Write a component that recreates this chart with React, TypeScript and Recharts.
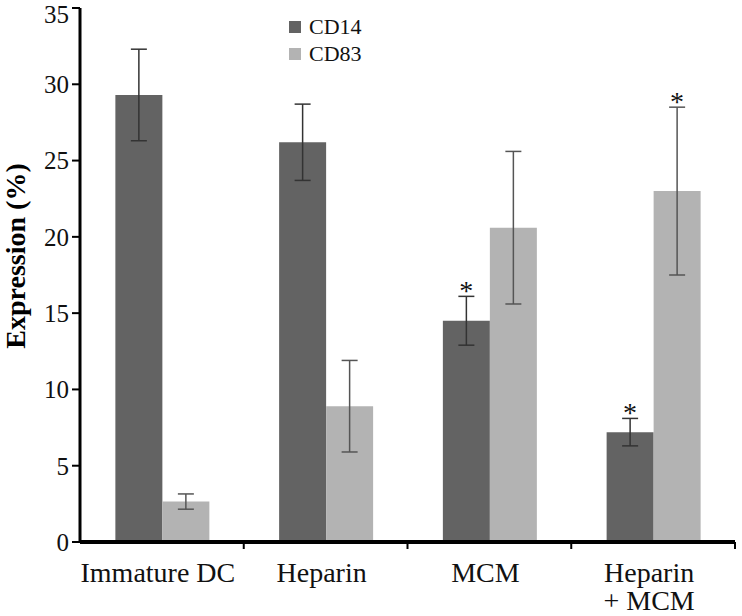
import React from "react";
import {
  BarChart,
  Bar,
  XAxis,
  YAxis,
  ErrorBar,
  LabelList,
  Legend,
} from "recharts";

const categories = ["Immature DC", "Heparin", "MCM", "Heparin\n+ MCM"];
const seriesNames = ["CD14", "CD83"];
const cd14 = [29.3, 26.2, 14.5, 7.2];
const cd14Err = [3.0, 2.5, 1.6, 0.9];
const cd83 = [2.65, 8.9, 20.6, 23.0];
const cd83Err = [0.5, 3.0, 5.0, 5.5];
const cd14Sig = [false, false, true, true];
const cd83Sig = [false, false, false, true];
const yTicks = [0, 5, 10, 15, 20, 25, 30, 35];

const DARK = "#636363";
const LIGHT = "#b3b3b3";
const FONT = "Liberation Serif, serif";

const data = categories.map((name, i) => ({
  name,
  cd14: cd14[i],
  cd14Err: cd14Err[i],
  cd83: cd83[i],
  cd83Err: cd83Err[i],
}));

const CatTick = (props: any) => {
  const { x, y, payload } = props;
  const off = payload && typeof payload.offset === "number" ? payload.offset : 81.875;
  const lines = String(payload.value).split("\n");
  return (
    <g>
      <line x1={x + off} y1={y} x2={x + off} y2={y + 7} stroke="#000" strokeWidth={2} />
      <text
        x={x}
        y={y + 40}
        textAnchor="middle"
        style={{ fontFamily: FONT }}
        fontSize={28}
        fill="#111"
      >
        {lines.map((l, i) => (
          <tspan key={i} x={x - 4} dy={i === 0 ? 0 : 28}>
            {l}
          </tspan>
        ))}
      </text>
    </g>
  );
};

const YTitle = () => (
  <text
    x={25}
    y={256}
    transform="rotate(-90, 25, 256)"
    textAnchor="middle"
    style={{ fontFamily: FONT }}
    fontWeight="bold"
    fontSize={28}
    fill="#000"
  >
    Expression (%)
  </text>
);

const makeStar = (errs: number[], sig: boolean[]) => (p: any) => {
  const { x, y, width, height, value, index } = p;
  if (!sig[index]) return null;
  const errTop = y - height * (errs[index] / value);
  return (
    <text
      key={`s${index}`}
      x={x + width / 2}
      y={errTop + 4}
      textAnchor="middle"
      style={{ fontFamily: FONT }}
      fontSize={28}
      fill="#111"
    >
      *
    </text>
  );
};

const LegendBox = () => {
  const colors = [DARK, LIGHT];
  return (
    <div style={{ fontFamily: FONT, fontSize: 22, color: "#111" }}>
      {seriesNames.map((n, i) => (
        <div
          key={n}
          style={{ display: "flex", alignItems: "center", height: 27, lineHeight: "27px" }}
        >
          <span
            style={{
              display: "inline-block",
              width: 12,
              height: 12,
              background: colors[i],
              marginRight: 8,
            }}
          />
          <span>{n}</span>
        </div>
      ))}
    </div>
  );
};

export default function App() {
  return (
    <div
      style={{ position: "absolute", left: 0, top: 0, background: "#fff", fontFamily: FONT }}
    >
      <BarChart
        width={742}
        height={616}
        data={data}
        margin={{ top: 8, right: 7, bottom: 4, left: 0 }}
        barCategoryGap="21.6%"
        barGap={0}
        style={{ fontFamily: FONT }}
      >
        <XAxis
          dataKey="name"
          interval={0}
          tickLine={false}
          tickSize={0}
          tickMargin={0}
          height={70}
          axisLine={{ stroke: "#000", strokeWidth: 4 }}
          tick={<CatTick />}
        />
        <YAxis
          type="number"
          domain={[0, 35]}
          ticks={yTicks}
          width={80}
          tickSize={8}
          tickMargin={3}
          axisLine={{ stroke: "#000", strokeWidth: 3 }}
          tickLine={{ stroke: "#000", strokeWidth: 2 }}
          tick={{ fontFamily: FONT, fontSize: 25, fill: "#111" }}
          label={<YTitle />}
        />
        <Legend
          layout="vertical"
          align="center"
          verticalAlign="middle"
          wrapperStyle={{ left: 289, top: 13, width: "auto" }}
          content={<LegendBox />}
        />
        <Bar dataKey="cd14" name={seriesNames[0]} fill={DARK} isAnimationActive={false}>
          <ErrorBar dataKey="cd14Err" width={8} stroke="#333" strokeWidth={1.5} />
          <LabelList dataKey="cd14" content={makeStar(cd14Err, cd14Sig)} />
        </Bar>
        <Bar dataKey="cd83" name={seriesNames[1]} fill={LIGHT} isAnimationActive={false}>
          <ErrorBar dataKey="cd83Err" width={8} stroke="#555" strokeWidth={1.5} />
          <LabelList dataKey="cd83" content={makeStar(cd83Err, cd83Sig)} />
        </Bar>
      </BarChart>
    </div>
  );
}
